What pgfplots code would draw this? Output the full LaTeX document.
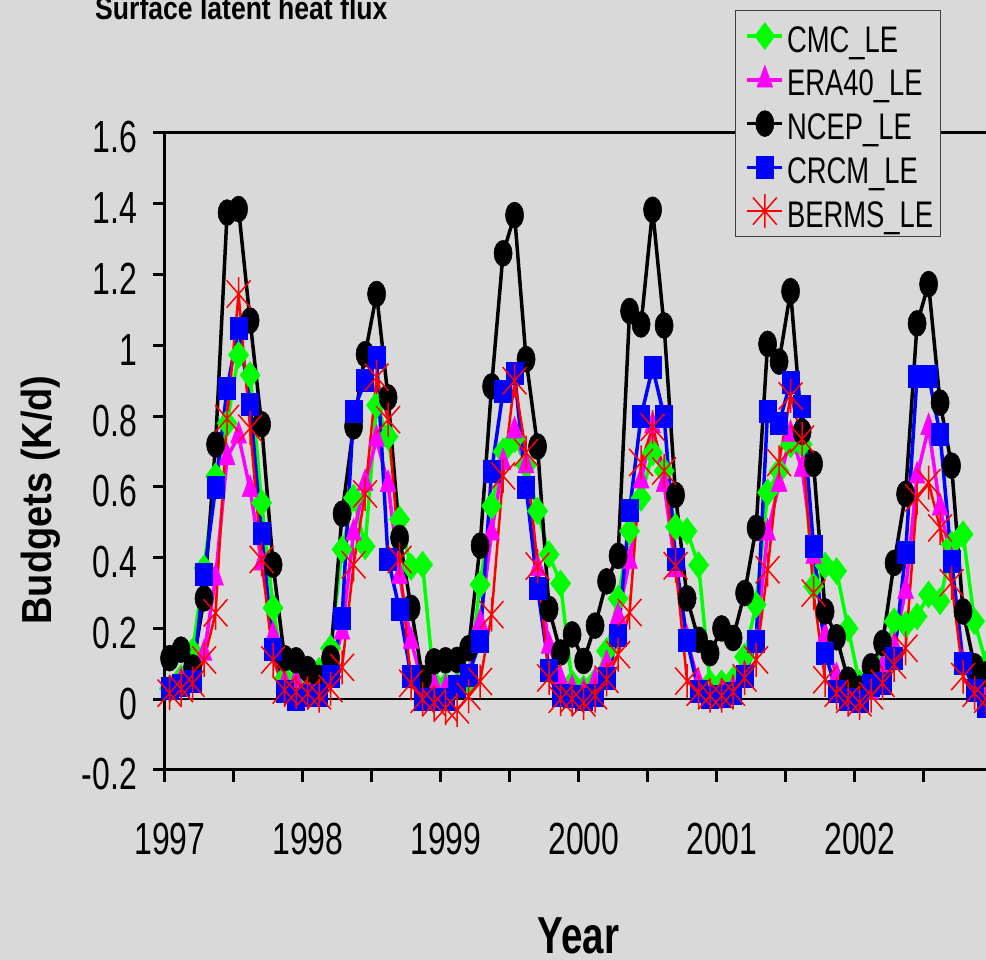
\documentclass[border=0pt]{standalone}
\usepackage{fontspec}
\setmainfont{Liberation Sans}[FakeStretch=0.71]
\newfontfamily\labelfont{Liberation Sans}[FakeStretch=0.905]
\newfontfamily\yearfont{Liberation Sans}[FakeStretch=0.74]
\newfontfamily\titlefont{Liberation Sans}[FakeStretch=0.83]
\newfontfamily\legfont{Liberation Sans}[FakeStretch=0.74]
\usepackage{pgfplots}
\usepackage{pgfplotstable}
\pgfplotsset{compat=1.18}
\definecolor{bg}{RGB}{217,217,217}
\definecolor{cmcg}{RGB}{0,255,0}
\definecolor{eram}{RGB}{255,0,255}
\definecolor{crcmb}{RGB}{0,0,255}
\definecolor{bermr}{RGB}{255,0,0}
\pgfdeclareplotmark{xstar}{%
  \pgfpathmoveto{\pgfqpoint{0pt}{\pgfplotmarksize}}%
  \pgfpathlineto{\pgfqpoint{0pt}{-\pgfplotmarksize}}%
  \pgfpathmoveto{\pgfqpoint{-0.7\pgfplotmarksize}{-0.8\pgfplotmarksize}}%
  \pgfpathlineto{\pgfqpoint{0.7\pgfplotmarksize}{0.8\pgfplotmarksize}}%
  \pgfpathmoveto{\pgfqpoint{-0.7\pgfplotmarksize}{0.8\pgfplotmarksize}}%
  \pgfpathlineto{\pgfqpoint{0.7\pgfplotmarksize}{-0.8\pgfplotmarksize}}%
  \pgfusepathqstroke}

\pgfplotstableread{
k CMC ERA NCEP CRCM BERMS
0 0.03 0.026 0.116 0.03 0.017
1 0.06 0.05 0.14 0.04 0.03
2 0.135 0.045 0.09 0.05 0.045
3 0.37 0.13 0.285 0.352 0.111
4 0.63 0.343 0.72 0.598 0.244
5 0.78 0.683 1.375 0.878 0.793
6 0.973 0.744 1.385 1.049 1.145
7 0.916 0.593 1.07 0.834 0.766
8 0.555 0.385 0.777 0.468 0.395
9 0.258 0.18 0.38 0.142 0.111
10 0.06 0.045 0.116 0.022 0.026
11 0.05 0.05 0.11 0.0 0.02
12 0.03 0.02 0.085 0.012 0.017
13 0.08 0.04 0.06 0.012 0.01
14 0.144 0.07 0.116 0.064 0.03
15 0.423 0.19 0.524 0.229 0.09
16 0.569 0.47 0.771 0.815 0.38
17 0.432 0.61 0.975 0.90 0.58
18 0.831 0.735 1.145 0.966 0.91
19 0.742 0.607 0.853 0.395 0.79
20 0.508 0.348 0.456 0.253 0.395
21 0.374 0.164 0.258 0.064 0.045
22 0.38 0.045 0.06 0.0 0.0
23 0.045 0.04 0.107 0.0 -0.01
24 0.04 0.03 0.11 0.0 -0.025
25 0.04 0.03 0.111 0.036 -0.03
26 0.05 0.06 0.144 0.069 0.008
27 0.324 0.215 0.434 0.163 0.05
28 0.546 0.47 0.884 0.645 0.239
29 0.70 0.669 1.26 0.87 0.631
30 0.735 0.758 1.368 0.92 0.90
31 0.66 0.66 0.961 0.60 0.697
32 0.532 0.37 0.714 0.314 0.376
33 0.409 0.15 0.255 0.083 0.06
34 0.327 0.055 0.132 0.012 0.0
35 0.045 0.03 0.183 0.008 0.0
36 0.03 0.02 0.108 0.0 -0.01
37 0.05 0.05 0.208 0.01 0.01
38 0.136 0.10 0.333 0.06 0.056
39 0.284 0.234 0.405 0.18 0.126
40 0.475 0.39 1.097 0.533 0.245
41 0.569 0.617 1.059 0.80 0.669
42 0.697 0.773 1.383 0.937 0.769
43 0.645 0.607 1.056 0.80 0.645
44 0.487 0.366 0.577 0.395 0.377
45 0.475 0.168 0.285 0.166 0.051
46 0.379 0.045 0.168 0.022 0.02
47 0.045 0.01 0.13 0.005 0.01
48 0.045 0.02 0.2 0.008 0.01
49 0.055 0.03 0.173 0.017 0.02
50 0.12 0.07 0.30 0.064 0.06
51 0.267 0.16 0.484 0.163 0.111
52 0.584 0.47 1.004 0.815 0.366
53 0.645 0.607 0.954 0.78 0.669
54 0.72 0.749 1.153 0.897 0.857
55 0.72 0.65 0.756 0.827 0.735
56 0.319 0.404 0.665 0.432 0.30
57 0.378 0.178 0.248 0.13 0.055
58 0.362 0.064 0.175 0.022 0.017
59 0.2 0.01 0.055 0.0 0.0
60 0.045 0.0 0.03 -0.005 -0.01
61 0.04 0.02 0.093 0.04 0.01
62 0.1 0.09 0.159 0.045 0.045
63 0.22 0.15 0.385 0.116 0.097
64 0.21 0.305 0.58 0.414 0.144
65 0.234 0.631 1.062 0.914 0.569
66 0.296 0.768 1.173 0.914 0.612
67 0.277 0.541 0.838 0.749 0.484
68 0.437 0.39 0.66 0.39 0.329
69 0.466 0.10 0.248 0.102 0.064
70 0.22 0.03 0.093 0.026 0.017
71 0.1 0.0 0.07 -0.02 0.0
}\data

\begin{document}
\begin{tikzpicture}
\path[use as bounding box, fill=bg] (-165pt,-190pt) rectangle (821pt,770pt);
\begin{axis}[
  at={(0pt,0pt)}, anchor=south west,
  scale only axis, width=828pt, height=637pt,
  xmin=1997, xmax=2003, ymin=-0.2, ymax=1.6,
  clip=false,
  axis x line*=bottom, axis y line*=left,
  axis line style={line width=3pt, black, -},
  xtick={1997,1998,1999,2000,2001,2002},
  xticklabels={1997,1998,1999,2000,2001,2002},
  minor xtick={1997.5,1998.5,1999.5,2000.5,2001.5,2002.5},
  ytick={-0.2,0,0.2,0.4,0.6,0.8,1,1.2,1.4,1.6},
  yticklabels={-0.2,0,0.2,0.4,0.6,0.8,1,1.2,1.4,1.6},
  tick align=outside, major tick length=12pt, minor tick length=12pt,
  every tick/.style={black, line width=3pt},
  xticklabel style={font=\fontsize{45}{45}\selectfont, anchor=north, inner sep=0pt, xshift=5pt, yshift=-41pt},
  yticklabel style={font=\fontsize{45}{45}\selectfont, anchor=east, inner sep=0pt, xshift=-16pt, yshift=-4.5pt},
  xlabel={Year},
  xlabel style={font=\yearfont\bfseries\fontsize{52}{52}\selectfont, at={(axis description cs:0.4994,-0.2888)}, anchor=base, inner sep=0pt},
  ylabel={Budgets (K/d)},
  ylabel style={font=\labelfont\bfseries\fontsize{42}{42}\selectfont, at={(axis description cs:-0.1498,0.424)}, anchor=center},
  title={Surface latent heat flux},
  title style={font=\titlefont\bfseries\fontsize{32}{32}\selectfont, at={(axis description cs:-0.0845,1.168)}, anchor=base west, inner sep=0pt},
  legend style={at={(axis description cs:0.6884,1.1931)}, anchor=north west,
    draw=black!75, line width=1.2pt, fill=bg,
    font=\legfont\fontsize{37}{37}\selectfont,
    inner xsep=4pt, inner ysep=7.5pt, row sep=7.75pt,
    nodes={inner xsep=3pt, inner ysep=0pt, text height=34pt, text depth=2pt}},
  legend cell align=left,
  legend image code/.code={\path (0pt,0pt); \draw[mark repeat=2,mark phase=2] plot coordinates {(6pt,0pt) (23.5pt,0pt) (41pt,0pt)};},
]
\draw[line width=3pt, black] (rel axis cs:0,1) -- (rel axis cs:1,1);
\draw[line width=2.5pt, black] (axis cs:1997,0) -- (axis cs:2003,0);

\addplot[color=cmcg, line width=3.5pt, mark=diamond*, mark size=13.5pt,
  mark options={solid, fill=cmcg, draw=cmcg, line width=0.5pt}]
  table[x expr={1997+(\coordindex+0.4)/12}, y=CMC] {\data};
\addlegendentry{CMC\_LE}
\addplot[color=eram, line width=3.5pt, mark=triangle*, mark size=14.5pt,
  mark options={solid, fill=eram, draw=eram, line width=0.5pt, xscale=0.63}]
  table[x expr={1997+(\coordindex+0.4)/12}, y=ERA] {\data};
\addlegendentry{ERA40\_LE}
\addplot[color=black, line width=3.5pt, mark=*, mark size=13pt,
  mark options={solid, fill=black, draw=black, line width=0.5pt, xscale=0.7}]
  table[x expr={1997+(\coordindex+0.4)/12}, y=NCEP] {\data};
\addlegendentry{NCEP\_LE}
\addplot[color=crcmb, line width=3.5pt, mark=square*, mark size=11pt,
  mark options={solid, fill=crcmb, draw=crcmb, line width=0.5pt, xscale=0.76}]
  table[x expr={1997+(\coordindex+0.4)/12}, y=CRCM] {\data};
\addlegendentry{CRCM\_LE}
\addplot[color=bermr, line width=2.5pt, mark=xstar, mark size=17pt,
  mark options={solid, draw=bermr, line width=1.5pt}]
  table[x expr={1997+(\coordindex+0.4)/12}, y=BERMS] {\data};
\addlegendentry{BERMS\_LE}
\end{axis}
\end{tikzpicture}
\end{document}
